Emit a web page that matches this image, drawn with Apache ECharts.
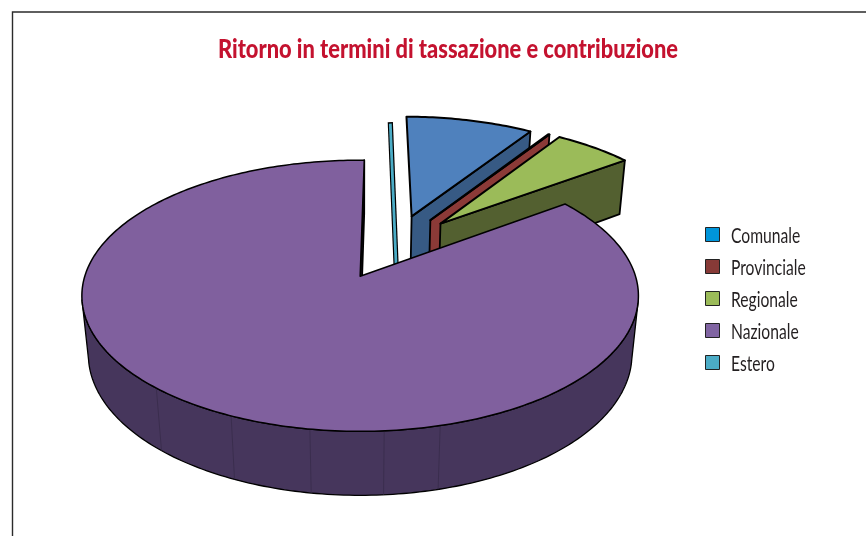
<!DOCTYPE html>
<html>
<head>
<meta charset="utf-8">
<style>html,body{margin:0;padding:0;background:#fff}#chart{width:866px;height:536px}</style>
<script src="https://cdn.jsdelivr.net/npm/echarts@6/dist/echarts.min.js"></script>
</head>
<body>
<div id="chart"></div>
<script>
// Shares of the return, in percent, listed clockwise from the start angle
const categories = ['Comunale', 'Provinciale', 'Regionale', 'Nazionale', 'Estero'];
const shares = [9.2, 0.1, 5.6, 84.8, 0.3];

const legendColors = ['#0095da', '#873a37', '#9bbb59', '#8064a2', '#4bacc6'];
const topColors = ['#4f81bd', '#8b3a37', '#9bbb59', '#80609e', '#4bacc6'];
const cutColors = ['#375a84', '#8b3a37', '#536030', '#46365c', '#4bacc6'];
const drawOrder = ['Estero', 'Comunale', 'Provinciale', 'Regionale', 'Nazionale'];
// Angles of the faint joints in the outer wall of the large slice
const wallSeams = [165.5, 175.7, 189, 204, 221.3];

const START_ANGLE = 0.2;
const EXPLODE_ACROSS = 0.272;
const EXPLODE_DEPTH = 0.26;
const PIE_ORIGIN = [0.12, 0.231];
const BASE = { x: 360.5, y: 276, sx: 275.3, sy: 132.7, persp: 0.144, depthY: 59.9, depthW: 0.0234 };
// The part of the rim that faces the viewer, in degrees clockwise from the back
const FRONT_ARC = [100, 260];
const FONT = 'Lato, "Noto Sans", sans-serif';

// Perspective projection of a point of the tilted disc; h = 0 on top, 1 on the base
function project(a, b, h) {
  const w = 1 + BASE.persp * b + BASE.depthW * h;
  return [BASE.x + BASE.sx * a / w, BASE.y + (-BASE.sy * b + BASE.depthY * h) / w];
}

// Angular extent, exploded centre and radius of each slice
const total = shares.reduce((s, v) => s + v, 0);
let running = START_ANGLE;
const slices = {};
categories.forEach((name, i) => {
  const from = running;
  const to = running + shares[i] / total * 360;
  running = to;
  const mid = (from + to) / 2 * Math.PI / 180;
  slices[name] = {
    index: i, from, to,
    ca: PIE_ORIGIN[0] + EXPLODE_ACROSS * Math.sin(mid),
    cb: PIE_ORIGIN[1] + EXPLODE_DEPTH * Math.cos(mid),
    r: 1 - 0.03 * Math.max(0, Math.cos(mid))
  };
});
// Small corrections for how the tilted view places these two slices
slices.Nazionale.to += 1.85;
slices.Estero.ca += 0.024;
slices.Estero.from -= 0.45;
slices.Estero.to -= 0.45;
slices.Estero.r = 0.9;

function rimPoint(s, deg, h) {
  const t = deg * Math.PI / 180;
  return project(s.ca + s.r * Math.sin(t), s.cb + s.r * Math.cos(t), h);
}

function arc(s, from, to, h) {
  const n = Math.max(2, Math.ceil(Math.abs(to - from)));
  const pts = [];
  for (let i = 0; i <= n; i++) pts.push(rimPoint(s, from + (to - from) * i / n, h));
  return pts;
}

function polygon(points, fill, stroke, width) {
  return {
    type: 'polygon',
    shape: { points },
    style: { fill, stroke, lineWidth: width, lineJoin: 'round' }
  };
}

function strip(p, q, color, width) {
  return {
    type: 'line',
    shape: { x1: p[0], y1: p[1], x2: q[0], y2: q[1] },
    style: { stroke: color, lineWidth: width, lineCap: 'butt' }
  };
}

function renderSlice(name) {
  const s = slices[name];
  const dark = cutColors[s.index];
  const apexTop = project(s.ca, s.cb, 0);
  const apexBase = project(s.ca, s.cb, 1);
  const children = [];

  // A hairline slice stays readable as an outlined strip from rim to centre
  if (name === 'Estero') {
    const mid = (s.from + s.to) / 2;
    const rim = rimPoint(s, mid, 0);
    children.push(strip(rim, apexBase, '#000', 5.2));
    children.push(strip([rim[0], rim[1] + 1.4], apexBase, topColors[s.index], 2.8));
    return { type: 'group', children };
  }

  // Outer wall between the top rim and the base rim
  const wallFrom = Math.max(s.from, FRONT_ARC[0]);
  const wallTo = Math.min(s.to, FRONT_ARC[1]);
  if (wallTo > wallFrom) {
    children.push(polygon(
      arc(s, wallFrom, wallTo, 0).concat(arc(s, wallTo, wallFrom, 1)), dark, '#000', 1.3));
    wallSeams.forEach((deg) => {
      children.push(strip(rimPoint(s, deg, 0), rimPoint(s, deg, 1), '#352a48', 0.7));
    });
  }
  // Cut face on the clockwise side of the slice
  children.push(polygon(
    [apexTop, rimPoint(s, s.to, 0), rimPoint(s, s.to, 1), apexBase], dark, '#000', 1.8));
  // Top face
  children.push(polygon([apexTop].concat(arc(s, s.from, s.to, 0)), topColors[s.index], '#000',
    name === 'Nazionale' ? 1.5 : 2));
  return { type: 'group', children };
}

// Legend rows: swatch and condensed label
const legendRows = categories.flatMap((name, i) => [
  {
    type: 'rect',
    silent: true,
    shape: { x: 705.5, y: 227.5 + 32 * i, width: 14, height: 14 },
    style: { fill: legendColors[i], stroke: '#222', lineWidth: 1 }
  },
  {
    type: 'text',
    silent: true,
    x: 731,
    y: 236 + 32 * i,
    scaleX: 0.745,
    style: {
      text: name,
      fill: '#231f20',
      fontFamily: FONT,
      fontSize: 21,
      textAlign: 'left',
      textVerticalAlign: 'middle'
    }
  }
]);

const chart = echarts.init(document.getElementById('chart'), null, { renderer: 'canvas' });
chart.setOption({
  animation: false,
  backgroundColor: '#fff',
  graphic: [
    {
      type: 'polyline',
      silent: true,
      shape: { points: [[12.5, 540], [12.5, 12], [870, 12]] },
      style: { fill: 'none', stroke: '#2b2b2b', lineWidth: 1.4 }
    },
    {
      type: 'text',
      silent: true,
      x: 448,
      y: 50,
      scaleX: 0.84,
      style: {
        text: 'Ritorno in termini di tassazione e contribuzione',
        fill: '#c4122f',
        fontFamily: FONT,
        fontWeight: 900,
        fontSize: 26,
        textAlign: 'center',
        textVerticalAlign: 'middle'
      }
    }
  ].concat(legendRows),
  series: drawOrder.map((name, order) => ({
    type: 'custom',
    name,
    coordinateSystem: 'none',
    silent: true,
    z: 2 + order,
    data: [[shares[categories.indexOf(name)]]],
    renderItem: () => renderSlice(name)
  }))
});
</script>
</body>
</html>
